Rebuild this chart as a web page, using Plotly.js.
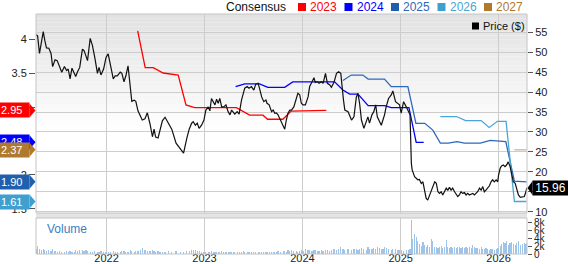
<!DOCTYPE html>
<html>
<head>
<meta charset="utf-8">
<script src="https://cdn.plot.ly/plotly-3.0.1.min.js"></script>
<style>html,body{margin:0;padding:0;background:#fff;}#chart{width:568px;height:264px;}</style>
</head>
<body>
<div id="chart"></div>
<script>
// ---------------- DATA ----------------
const priceDates = [
'2021-04-13','2021-04-19','2021-04-26','2021-05-04','2021-05-10','2021-05-16','2021-05-22','2021-05-31','2021-06-08','2021-06-14',
'2021-06-23','2021-07-01','2021-07-09','2021-07-18','2021-07-28','2021-08-05','2021-08-11','2021-08-18','2021-08-25','2021-09-02',
'2021-09-08','2021-09-14','2021-09-23','2021-10-03','2021-10-09','2021-10-16','2021-10-22','2021-11-01','2021-11-09','2021-11-18',
'2021-11-28','2021-12-04','2021-12-11','2021-12-21','2021-12-30','2022-01-07','2022-01-17','2022-01-26','2022-02-02','2022-02-10',
'2022-02-21','2022-02-27','2022-03-07','2022-03-14','2022-03-22','2022-03-30','2022-04-05','2022-04-14','2022-04-20','2022-04-28',
'2022-05-06','2022-05-14','2022-05-24','2022-06-02','2022-06-12','2022-06-21','2022-06-27','2022-07-03','2022-07-12','2022-07-19',
'2022-07-28','2022-08-07','2022-08-19','2022-09-01','2022-09-17','2022-10-04','2022-10-15','2022-10-27','2022-11-05','2022-11-14',
'2022-11-20','2022-11-28','2022-12-05','2022-12-12','2022-12-21','2022-12-30','2023-01-06','2023-01-15','2023-01-21','2023-01-27',
'2023-02-03','2023-02-09','2023-02-15','2023-02-21','2023-02-27','2023-03-06','2023-03-14','2023-03-22','2023-03-30','2023-04-06',
'2023-04-12','2023-04-18','2023-04-24','2023-05-03','2023-05-10','2023-05-19','2023-05-25','2023-05-31','2023-06-09','2023-06-16',
'2023-06-25','2023-07-04','2023-07-11','2023-07-20','2023-07-26','2023-08-02','2023-08-10','2023-08-18','2023-08-22','2023-08-30',
'2023-09-08','2023-09-14','2023-09-20','2023-09-26','2023-10-02','2023-10-11','2023-10-21','2023-10-27','2023-11-02','2023-11-08',
'2023-11-15','2023-11-21','2023-11-30','2023-12-09','2023-12-15','2023-12-22','2023-12-28','2024-01-03','2024-01-12','2024-01-22',
'2024-01-28','2024-02-06','2024-02-13','2024-02-18','2024-02-26','2024-03-03','2024-03-12','2024-03-18','2024-03-27','2024-04-03',
'2024-04-12','2024-04-18','2024-04-28','2024-05-07','2024-05-15','2024-05-23','2024-05-28','2024-06-02','2024-06-07','2024-06-19',
'2024-07-02','2024-07-11','2024-07-20','2024-07-26','2024-08-01','2024-08-08','2024-08-17','2024-08-26','2024-09-01','2024-09-07',
'2024-09-16','2024-09-23','2024-09-30','2024-10-06','2024-10-15','2024-10-21','2024-10-27','2024-11-02','2024-11-08','2024-11-17',
'2024-11-27','2024-12-03','2024-12-13','2024-12-22','2024-12-28','2025-01-03','2025-01-12','2025-01-22','2025-02-01','2025-02-05',
'2025-02-10','2025-02-13','2025-02-22','2025-02-28','2025-03-06','2025-03-12','2025-03-19','2025-03-25','2025-03-31','2025-04-06',
'2025-04-12','2025-04-19','2025-04-25','2025-05-01','2025-05-08','2025-05-14','2025-05-20','2025-05-26','2025-06-01','2025-06-07',
'2025-06-13','2025-06-20','2025-06-26','2025-07-02','2025-07-08','2025-07-14','2025-07-21','2025-07-27','2025-08-02','2025-08-08',
'2025-08-14','2025-08-20','2025-08-27','2025-09-02','2025-09-08','2025-09-14','2025-09-21','2025-09-27','2025-10-03','2025-10-09',
'2025-10-15','2025-10-22','2025-10-28','2025-11-03','2025-11-09','2025-11-15','2025-11-21','2025-11-28','2025-12-04','2025-12-10',
'2025-12-16','2025-12-23','2025-12-29','2026-01-01','2026-01-07','2026-01-12','2026-01-19','2026-01-25','2026-01-31','2026-02-06',
'2026-02-13','2026-02-19','2026-02-25','2026-03-04','2026-03-09','2026-03-16','2026-03-23','2026-04-01','2026-04-07','2026-04-13',
'2026-04-16'];

const priceValues = [
54.4,54.1,49.7,53.3,55.2,52.9,51.1,51.0,49.7,46.4,
48.1,47.9,46.4,45.0,46.4,45.4,45.8,43.3,46.0,44.5,
43.9,45.0,46.2,50.8,50.4,49.1,47.9,53.5,51.8,48.7,
44.7,46.2,44.3,45.8,48.7,49.6,46.6,43.3,44.1,44.1,
45.0,44.7,42.6,44.1,46.6,40.8,37.7,38.0,37.7,35.3,
34.1,33.0,33.3,34.8,32.0,28.8,30.7,28.7,28.5,30.3,
32.8,33.7,32.2,30.7,27.2,25.5,24.7,28.4,30.7,32.2,
32.6,31.7,32.2,30.9,31.7,33.0,35.5,36.3,35.3,38.4,
37.6,36.8,38.2,37.2,38.4,36.3,36.3,36.8,35.1,34.3,
35.5,35.1,34.5,35.1,34.5,38.0,39.3,41.0,41.4,41.0,
41.4,40.5,42.0,42.2,40.7,38.8,37.6,38.0,37.2,36.8,
35.1,35.5,34.7,34.8,34.3,33.0,31.3,30.7,33.0,34.7,
35.5,35.5,36.3,38.4,39.7,39.3,37.2,36.8,36.8,38.8,
41.4,42.6,43.6,42.4,42.6,42.2,42.6,42.2,44.7,42.2,
41.8,41.2,42.5,44.7,45.1,44.7,40.5,38.0,35.5,35.1,
33.0,33.8,38.8,39.7,37.2,33.0,30.9,33.0,33.8,32.2,
34.3,35.1,36.8,33.8,32.6,31.7,33.0,34.3,36.3,38.4,
39.3,40.3,37.6,37.2,36.8,34.7,37.6,36.3,34.7,34.3,
22.1,20.5,18.8,18.4,18.0,18.1,17.1,17.5,15.4,13.4,
12.9,14.2,15.4,16.3,17.5,17.1,15.0,14.6,15.0,14.2,
15.0,15.9,15.4,16.1,15.4,15.9,15.0,14.2,13.8,14.2,
15.0,14.6,14.8,14.2,14.6,14.2,14.4,14.6,14.2,14.6,
15.0,15.9,15.4,16.3,15.0,15.4,15.9,16.5,17.5,18.0,
17.5,18.0,17.5,19.2,20.9,21.5,21.7,21.3,21.7,22.5,
21.3,19.2,17.5,17.1,15.9,14.2,13.6,13.8,13.8,15.0,
15.96];

// volume in thousands, one per price date
const volumeK = [
1.4,2.0,1.3,1.0,1.2,0.9,0.8,1.1,0.7,1.3,
0.8,0.6,0.7,0.5,0.6,0.8,0.6,0.7,0.5,0.6,
0.9,0.8,1.0,0.9,0.8,1.1,0.7,0.6,0.5,0.7,
0.6,0.5,0.7,0.6,0.5,0.6,0.5,0.7,0.6,0.5,
0.6,0.7,0.8,0.6,0.5,0.9,0.7,0.6,0.8,0.7,
1.0,1.5,0.9,0.8,0.7,0.9,0.8,0.6,0.7,0.6,
0.5,0.6,0.7,0.6,0.8,0.5,0.6,0.7,0.8,1.0,
1.1,0.9,0.8,0.7,0.6,0.6,0.5,0.6,0.5,0.7,
0.6,0.5,0.4,0.6,0.5,0.7,0.6,0.5,0.4,0.5,
0.6,0.5,0.6,0.4,0.5,0.6,0.7,0.5,0.6,0.5,
0.4,0.5,0.6,0.5,0.4,0.5,0.6,0.5,0.4,0.5,
0.6,0.5,0.5,0.6,0.7,0.6,0.8,0.7,0.6,0.9,
0.8,1.0,0.7,0.8,0.6,0.7,0.9,0.8,1.3,0.9,
1.0,0.8,0.9,1.1,0.8,0.7,0.9,0.8,1.0,0.9,
0.8,1.0,1.2,1.1,1.4,1.7,1.3,1.2,1.0,1.3,
1.1,1.2,1.4,1.0,1.2,1.5,1.3,1.1,1.7,1.4,
1.2,1.5,1.3,1.9,1.6,1.4,1.2,1.8,1.5,1.3,
1.0,1.4,1.2,0.9,1.1,1.0,0.8,1.1,0.9,1.2,
8.6,3.8,5.1,4.3,3.4,2.6,2.1,3.0,2.4,1.7,
2.2,1.8,3.8,3.4,1.9,1.7,1.5,1.8,2.1,1.6,
1.7,3.6,1.8,1.6,1.7,1.5,1.8,1.6,1.7,1.9,
1.5,1.7,1.6,1.8,1.5,1.7,1.6,2.4,1.8,1.6,
1.5,1.4,1.7,1.3,1.2,1.5,1.4,1.1,1.3,1.2,
1.0,1.2,1.6,1.5,2.0,2.6,3.1,2.8,3.4,2.3,
2.7,3.1,2.5,2.2,2.9,3.2,2.4,2.6,2.8,2.5,
2.7];

// consensus EPS estimates per fiscal year
const cons2023Dates = ['2022-04-27','2022-05-25','2022-06-24','2022-07-31','2022-09-25','2022-10-24','2022-11-25','2023-04-30','2023-06-18','2023-08-07','2023-08-24','2023-10-20','2023-11-20','2024-03-30'];
const cons2023 = [4.12,3.58,3.58,3.50,3.47,3.03,2.99,2.99,2.88,2.88,2.82,2.82,2.94,2.95];

const cons2024Dates = ['2023-04-27','2023-05-31','2023-07-25','2023-08-25','2023-10-27','2023-11-26','2024-04-30','2024-05-31','2024-06-25','2024-07-26','2024-09-02','2024-11-02','2024-11-27','2025-02-01','2025-02-28','2025-03-28'];
const cons2024 = [3.30,3.34,3.34,3.29,3.29,3.37,3.37,3.25,3.19,3.19,3.02,3.02,2.99,2.99,2.48,2.48];

const cons2025Dates = ['2024-05-31','2024-07-01','2024-08-13','2024-09-02','2024-11-02','2024-11-27','2025-01-28','2025-02-27','2025-04-01','2025-05-01','2025-05-29','2025-06-28','2025-07-30','2025-08-27','2025-10-25','2025-12-01','2026-01-28','2026-03-01','2026-04-15'];
const cons2025 = [3.39,3.47,3.47,3.41,3.41,3.30,3.30,2.76,2.76,2.66,2.47,2.47,2.49,2.47,2.47,2.51,2.49,1.91,1.90];

const cons2026Dates = ['2025-05-29','2025-07-28','2025-08-31','2025-10-28','2025-11-27','2025-12-28','2026-01-29','2026-03-01','2026-04-15'];
const cons2026 = [2.86,2.86,2.80,2.80,2.70,2.79,2.79,1.61,1.61];

const cons2027Dates = ['2026-03-01','2026-04-15'];
const cons2027 = [2.37,2.37];

const seriesNames = ['2023','2024','2025','2026','2027'];
const latestEps = [2.95, 2.48, 2.37, 1.90, 1.61];
const latestEpsYear = ['2023','2024','2027','2025','2026'];
const lastPrice = 15.96;

const yearTickVals = ['2022-01-01','2023-01-01','2024-01-01','2025-01-01','2026-01-01'];
const yearTickText = ['2022','2023','2024','2025','2026'];
// 2.5 and 3 sit under the EPS badges, as in the reference
const epsTickVals = [1.5,2,2.5,3,3.5,4];
const epsTickText = ['1.5','2','','','3.5','4'];
// 15 sits under the last-price badge
const priceTickVals = [10,15,20,25,30,35,40,45,50,55];
const priceTickText = ['10','','20','25','30','35','40','45','50','55'];
const volTickVals = [0,2,4,6,8];
const volTickText = ['0','2k','4k','6k','8k'];

// ---------------- STYLE ----------------
const FONT = 'Liberation Sans, Arial, sans-serif';
const lineColors = {'2023':'#ff0000','2024':'#0000ff','2025':'#2e68b8','2026':'#4aa6d6','2027':'#d4b48c'};
const badgeColors = {'2023':'#ff0000','2024':'#0000ff','2025':'#1f5fad','2026':'#3fa0d0','2027':'#b07a2e'};

const W = 568, H = 264, ML = 36, MR = 41, MT = 14, MB = 10;
const PW = W - ML - MR, PH = H - MT - MB;
const PX = X => (X - ML) / PW;
const PY = Y => (H - MB - Y) / PH;
const priceBottom = PY(213), volTop = PY(218);

const traces = [];
traces.push({
  type:'bar', x: priceDates, y: volumeK, xaxis:'x', yaxis:'y3',
  marker:{color:'#9ec5e9', line:{width:0}}, width: 4.5*86400000,
  hoverinfo:'skip', showlegend:false
});
const consSets = [[cons2023Dates,cons2023,'2023'],[cons2024Dates,cons2024,'2024'],[cons2025Dates,cons2025,'2025'],[cons2026Dates,cons2026,'2026'],[cons2027Dates,cons2027,'2027']];
consSets.forEach(([d,v,n]) => traces.push({
  type:'scatter', mode:'lines', x:d, y:v, xaxis:'x', yaxis:'y', name:n,
  line:{color:lineColors[n], width:1.3}, showlegend:false, hoverinfo:'skip'
}));
traces.push({
  type:'scatter', mode:'lines', x: priceDates, y: priceValues, xaxis:'x', yaxis:'y2',
  line:{color:'#111111', width:1.2}, showlegend:false, hoverinfo:'skip', name:'Price ($)'
});

// background gradient strips (styling only)
const shapes = [];
const NS = 28;
for (let i = 0; i < NS; i++) {
  const y1 = 1 - i*(1-0.5)/NS, y0 = 1 - (i+1)*(1-0.5)/NS;
  const g = Math.round(226 + (255-226)*(i/(NS-1)));
  shapes.push({type:'rect', xref:'paper', yref:'paper', x0:0, x1:1, y0:y0, y1:y1,
    fillcolor:`rgb(${g},${g},${g})`, line:{width:0}, layer:'below'});
}
// separator band between panels
shapes.push({type:'rect', xref:'paper', yref:'paper', x0:0, x1:1, y0:volTop, y1:priceBottom,
  fillcolor:'#e4e4e4', line:{width:0}, layer:'below'});
// panel borders
shapes.push({type:'rect', xref:'paper', yref:'paper', x0:0, x1:1, y0:priceBottom, y1:1,
  line:{color:'#c4c4c4', width:1}, fillcolor:'rgba(0,0,0,0)', layer:'above'});
shapes.push({type:'rect', xref:'paper', yref:'paper', x0:0, x1:1, y0:0, y1:volTop,
  line:{color:'#c4c4c4', width:1}, fillcolor:'rgba(0,0,0,0)', layer:'above'});

const annotations = [];
// left EPS badges
latestEps.forEach((v,i) => {
  const c = badgeColors[latestEpsYear[i]];
  shapes.push({type:'path', xref:'paper', xsizemode:'pixel', xanchor:0, yref:'y', ysizemode:'pixel', yanchor:v,
    path:'M -6.5 -7 L -0.5 0 L -6.5 7 Z', fillcolor:c, line:{width:0}, layer:'above'});
  annotations.push({xref:'paper', x:0, xanchor:'right', xshift:-6, yref:'y', y:v, yanchor:'middle',
    text:v.toFixed(2), showarrow:false, bgcolor:c, font:{family:FONT, size:11, color:'#ffffff'},
    width:27, height:12, borderpad:1, align:'left'});
});
// last price badge
shapes.push({type:'path', xref:'paper', xsizemode:'pixel', xanchor:1, yref:'y2', ysizemode:'pixel', yanchor:lastPrice,
  path:'M 0.5 0 L 5.5 -7 L 5.5 7 Z', fillcolor:'#000000', line:{width:0}, layer:'above'});
annotations.push({xref:'paper', x:1, xanchor:'left', xshift:5, yref:'y2', y:lastPrice, yanchor:'middle',
  text:lastPrice.toFixed(2), showarrow:false, bgcolor:'#000000', font:{family:FONT, size:12, color:'#ffffff'},
  width:34, height:13, borderpad:0.5, align:'center'});

// top legend
annotations.push({xref:'paper', yref:'paper', x:PX(224), y:PY(6.5), xanchor:'left', yanchor:'middle',
  text:'Consensus', showarrow:false, font:{family:FONT, size:12, color:'#111'}});
const legX = [298, 344.5, 391, 437.5, 484];
seriesNames.forEach((n,i) => {
  shapes.push({type:'rect', xref:'paper', yref:'paper', x0:PX(legX[i]), x1:PX(legX[i]+8), y0:PY(11), y1:PY(3),
    fillcolor:badgeColors[n], line:{width:0}});
  annotations.push({xref:'paper', yref:'paper', x:PX(legX[i]+10), y:PY(6.5), xanchor:'left', yanchor:'middle',
    text:n, showarrow:false, font:{family:FONT, size:12, color:lineColors[n] === '#d4b48c' ? '#b07a2e' : lineColors[n]}});
});
// price legend
shapes.push({type:'rect', xref:'paper', yref:'paper', x0:PX(472), x1:PX(479), y0:PY(29.5), y1:PY(22.5),
  fillcolor:'#000000', line:{width:0}});
annotations.push({xref:'paper', yref:'paper', x:PX(481), y:PY(26), xanchor:'left', yanchor:'middle',
  text:'Price ($)', showarrow:false, font:{family:FONT, size:11, color:'#111'}});
// volume label
annotations.push({xref:'paper', yref:'paper', x:PX(45), y:PY(229), xanchor:'left', yanchor:'middle',
  text:'Volume', showarrow:false, font:{family:FONT, size:12, color:'#3a80c4'}});

const layout = {
  width:W, height:H, margin:{l:ML, r:MR, t:MT, b:MB, pad:0},
  paper_bgcolor:'#ffffff', plot_bgcolor:'rgba(0,0,0,0)',
  font:{family:FONT, size:11, color:'#222'},
  showlegend:false,
  xaxis:{type:'date', range:['2021-04-13','2026-04-17'], anchor:'y3', tickvals:yearTickVals, ticktext:yearTickText,
    showgrid:true, gridcolor:'#cdcdcd', gridwidth:1, ticks:'', showline:false, zeroline:false,
    ticklabelstandoff:-4,
    tickfont:{family:FONT, size:11, color:'#222'}, automargin:false, fixedrange:true},
  yaxis:{domain:[priceBottom,1], range:[1.441,4.368], tickvals:epsTickVals, ticktext:epsTickText,
    showgrid:false, zeroline:false, ticks:'outside', ticklen:6, tickcolor:'#555', tickwidth:1,
    tickfont:{family:FONT, size:11, color:'#222'}, automargin:false, showline:false},
  yaxis2:{overlaying:'y', side:'right', range:[9.67,59.6], tickvals:priceTickVals, ticktext:priceTickText,
    showgrid:true, gridcolor:'#cdcdcd',
    zeroline:false, ticks:'outside', ticklen:5, tickcolor:'#555', tickwidth:1,
    tickfont:{family:FONT, size:11, color:'#222'}, automargin:false, showline:false},
  yaxis3:{domain:[0,volTop], range:[0,9.2], side:'right', anchor:'x', tickvals:volTickVals, ticktext:volTickText,
    showgrid:false, zeroline:false, ticks:'outside', ticklen:4, tickcolor:'#555',
    tickfont:{family:FONT, size:10, color:'#222'}, automargin:false},
  bargap:0,
  shapes:shapes, annotations:annotations
};

Plotly.newPlot('chart', traces, layout, {displayModeBar:false, staticPlot:true});
</script>
</body>
</html>
